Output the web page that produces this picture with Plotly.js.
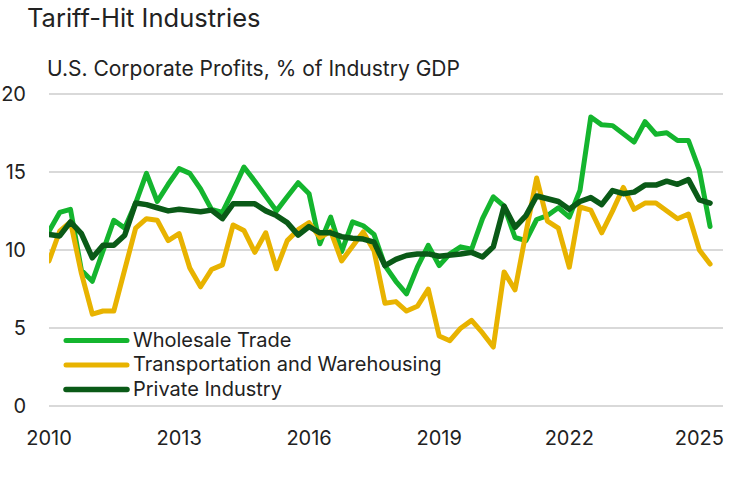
<!DOCTYPE html>
<html>
<head>
<meta charset="utf-8">
<script src="https://cdn.plot.ly/plotly-3.0.1.min.js"></script>
<style>
html,body{margin:0;padding:0;background:#fff;}
#chart{width:750px;height:480px;}
#chart .scatterlayer path.js-line{stroke-linejoin:round;stroke-linecap:round;}
#chart .legend path.js-line{stroke-linecap:round;}
#chart .legend text.legendtext{font-size:20px !important;}
</style>
</head>
<body>
<div id="chart"></div>
<script>
// Quarterly dates, 2010Q1 - 2025Q2
const quarters = [
"2010-01-01","2010-04-01","2010-07-01","2010-10-01",
"2011-01-01","2011-04-01","2011-07-01","2011-10-01",
"2012-01-01","2012-04-01","2012-07-01","2012-10-01",
"2013-01-01","2013-04-01","2013-07-01","2013-10-01",
"2014-01-01","2014-04-01","2014-07-01","2014-10-01",
"2015-01-01","2015-04-01","2015-07-01","2015-10-01",
"2016-01-01","2016-04-01","2016-07-01","2016-10-01",
"2017-01-01","2017-04-01","2017-07-01","2017-10-01",
"2018-01-01","2018-04-01","2018-07-01","2018-10-01",
"2019-01-01","2019-04-01","2019-07-01","2019-10-01",
"2020-01-01","2020-04-01","2020-07-01","2020-10-01",
"2021-01-01","2021-04-01","2021-07-01","2021-10-01",
"2022-01-01","2022-04-01","2022-07-01","2022-10-01",
"2023-01-01","2023-04-01","2023-07-01","2023-10-01",
"2024-01-01","2024-04-01","2024-07-01","2024-10-01",
"2025-01-01","2025-04-01"
];

const wholesaleTrade = [
11.2,12.4,12.6,8.7, 8.0,9.9,11.9,11.4, 13.0,14.9,13.1,14.2,
15.2,14.9,13.9,12.6, 12.4,13.8,15.3,14.4, 13.5,12.5,13.4,14.3,
13.6,10.4,12.1,9.9, 11.8,11.55,11.0,9.0, 8.0,7.2,8.9,10.3,
9.0,9.75,10.2,10.05, 12.0,13.4,12.8,10.8, 10.6,11.95,12.2,12.7,
12.1,13.8,18.5,18.0, 17.95,17.45,16.9,18.2, 17.4,17.5,17.0,17.0,
15.1,11.5
];

const transportation = [
9.3,11.2,11.8,8.5, 5.9,6.1,6.1,8.7, 11.4,12.0,11.9,10.6,
11.05,8.85,7.65,8.75, 9.05,11.6,11.25,9.85, 11.1,8.8,10.6,11.3,
11.75,10.8,11.2,9.3, 10.3,11.15,9.95,6.6, 6.7,6.1,6.4,7.5,
4.5,4.2,5.0,5.5, 4.7,3.8,8.6,7.45, 11.1,14.6,11.85,11.4,
8.9,12.75,12.55,11.1, 12.5,14.0,12.6,13.0, 13.0,12.5,12.0,12.3,
10.0,9.1
];

const privateIndustry = [
11.0,10.9,11.8,11.05, 9.5,10.3,10.3,10.95, 13.0,12.9,12.7,12.5,
12.6,12.5,12.45,12.55, 12.0,12.95,12.95,12.95, 12.5,12.2,11.75,10.95,
11.5,11.1,11.1,10.85, 10.75,10.7,10.5,9.0, 9.4,9.65,9.75,9.75,
9.6,9.65,9.75,9.85, 9.55,10.2,12.8,11.45, 12.2,13.45,13.3,13.1,
12.6,13.1,13.35,12.9, 13.8,13.6,13.7,14.15, 14.15,14.4,14.2,14.5,
13.2,13.0
];

const seriesNames = ["Wholesale Trade","Transportation and Warehousing","Private Industry"];
const seriesColors = ["#14b52e","#e8b300","#0a5a17"];

const xTickVals = ["2010-01-01","2013-01-01","2016-01-01","2019-01-01","2022-01-01","2025-01-01"];
const xTickText = ["2010","2013","2016","2019","2022","2025"];
const yTickVals = [0,5,10,15,20];

const FONT = "Inter, 'Noto Sans', sans-serif";
const TXT = "#222222";

const seriesData = [wholesaleTrade, transportation, privateIndustry];
const traces = seriesData.map((vals, k) => ({
  type: "scatter",
  mode: "lines",
  x: quarters,
  y: vals,
  name: seriesNames[k],
  line: {color: seriesColors[k], width: k === 2 ? 5.5 : 5, shape: "linear"},
  hoverinfo: "x+y+name"
}));

const layout = {
  width: 750,
  height: 480,
  margin: {l: 49, r: 27, t: 92, b: 72, pad: 0},
  paper_bgcolor: "#ffffff",
  plot_bgcolor: "#ffffff",
  font: {family: FONT, color: TXT, size: 17},
  title: {
    text: "Tariff-Hit Industries",
    font: {family: FONT, size: 25.5, color: TXT},
    xref: "container", yref: "container",
    x: 27/750, xanchor: "left",
    y: 1 - 18/480, yanchor: "middle"
  },
  xaxis: {
    type: "date",
    range: ["2010-01-01", "2025-07-19"],
    tickmode: "array",
    tickvals: xTickVals,
    ticktext: xTickText,
    ticks: "outside", ticklen: 12, tickcolor: "rgba(0,0,0,0)",
    tickfont: {family: FONT, size: 20, color: TXT},
    showgrid: false, zeroline: false, showline: false,
    fixedrange: true
  },
  yaxis: {
    range: [-0.1, 20.1],
    tickmode: "array",
    tickvals: yTickVals,
    ticks: "outside", ticklen: 18, tickcolor: "rgba(0,0,0,0)",
    tickfont: {family: FONT, size: 20, color: TXT},
    showgrid: true, gridcolor: "#d9d9d9", gridwidth: 2,
    zeroline: false, showline: false,
    fixedrange: true
  },
  showlegend: true,
  legend: {
    x: 12/674, xanchor: "left",
    y: 0.268, yanchor: "top",
    bgcolor: "rgba(0,0,0,0)",
    font: {family: FONT, size: 16.5, color: TXT},
    itemwidth: 62,
    tracegroupgap: 0
  },
  annotations: [{
    text: "U.S. Corporate Profits, % of Industry GDP",
    xref: "paper", yref: "paper",
    x: -4/674, xanchor: "left",
    y: 1.073, yanchor: "middle",
    showarrow: false,
    font: {family: FONT, size: 21, color: TXT}
  }]
};

Plotly.newPlot("chart", traces, layout, {displayModeBar: false, staticPlot: true}).then(gd => {
  // lengthen legend line samples to match the reference key
  gd.querySelectorAll(".legend path.js-line").forEach(p => p.setAttribute("d", "M5,0h61"));
  // let the (CSS-enlarged) legend labels show in full
  gd.querySelectorAll(".legend .scrollbox").forEach(s => s.removeAttribute("clip-path"));
});
</script>
</body>
</html>
